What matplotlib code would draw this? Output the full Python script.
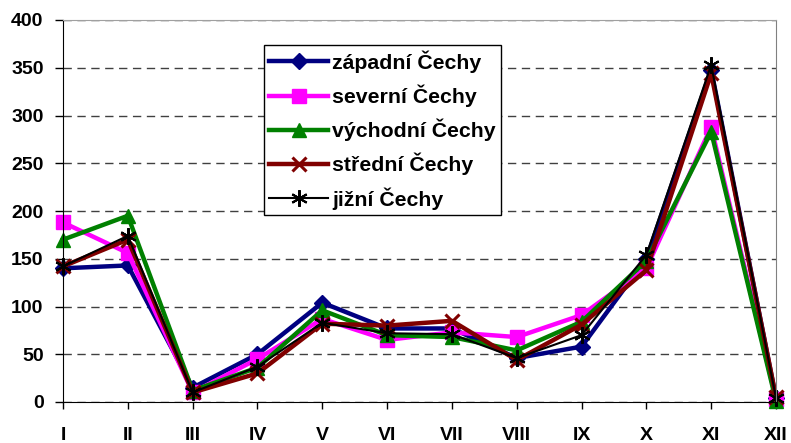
import matplotlib
matplotlib.use("Agg")
import matplotlib.pyplot as plt

months = ["I", "II", "III", "IV", "V", "VI", "VII", "VIII", "IX", "X", "XI", "XII"]
zapadni = [140, 143, 15, 50, 104, 77, 77, 46, 58, 150, 348, 4]
severni = [188, 156, 10, 45, 87, 65, 73, 68, 91, 140, 288, 3]
vychodni = [170, 195, 12, 36, 96, 70, 68, 54, 84, 148, 283, 1]
stredni = [142, 170, 10, 30, 82, 80, 85, 44, 81, 138, 344, 5]
jizni = [142, 174, 10, 37, 83, 72, 71, 46, 70, 154, 353, 4]

series = [
    ("západní Čechy", zapadni, "#000080", "D", 3.2, 8),
    ("severní Čechy", severni, "#FF00FF", "s", 3.2, 10),
    ("východní Čechy", vychodni, "#008000", "^", 3.2, 10),
    ("střední Čechy", stredni, "#800000", "x", 3.2, 10),
    ("jižní Čechy", jizni, "#000000", (6, 2, 0), 1.5, 12),
]

plt.rcParams['font.family'] = ['Liberation Sans', 'DejaVu Sans']
fig = plt.figure(figsize=(7.91, 4.43), dpi=100)
ax = fig.add_axes([63/791, 41/443, 713/791, 382/443])

x = list(range(len(months)))
for name, vals, col, mk, lw, ms in series:
    kw = dict(color=col, lw=lw, marker=mk, markersize=ms, label=name,
              markerfacecolor=col, markeredgecolor=col, clip_on=False)
    if mk == "x":
        kw["markeredgewidth"] = 2.2
    if mk == (6, 2, 0):
        kw["markeredgewidth"] = 1.5
    ax.plot(x, vals, **kw)

ax.set_xlim(0, 11)
ax.set_ylim(0, 400)
ax.set_yticks(range(0, 401, 50))
ax.set_xticks(x)
ax.set_xticklabels(months, fontsize=14, fontweight='bold')
for lab in ax.get_yticklabels():
    lab.set_fontsize(14)
    lab.set_fontweight('bold')
ax.yaxis.grid(True, color='#404040', linestyle=(0, (6, 4)), lw=1)
ax.set_axisbelow(True)
ax.tick_params(axis='x', direction='out', length=5, width=1, pad=13)
ax.tick_params(axis='y', direction='out', length=6, width=1, pad=8)
ax.spines['top'].set_color('#a0a0a0')
ax.spines['right'].set_color('#808080')
ax.spines['left'].set_color('black')
ax.spines['bottom'].set_color('black')

leg = ax.legend(loc='upper left', bbox_to_anchor=(201/713, 357/382), frameon=True,
                fancybox=False, edgecolor='black', framealpha=1,
                prop={'weight': 'bold', 'size': 15.3}, handlelength=2.75,
                handletextpad=0.2, labelspacing=0.55, borderpad=0.25,
                borderaxespad=0)
leg.get_frame().set_linewidth(1)

fig.savefig("out.png", dpi=100)
